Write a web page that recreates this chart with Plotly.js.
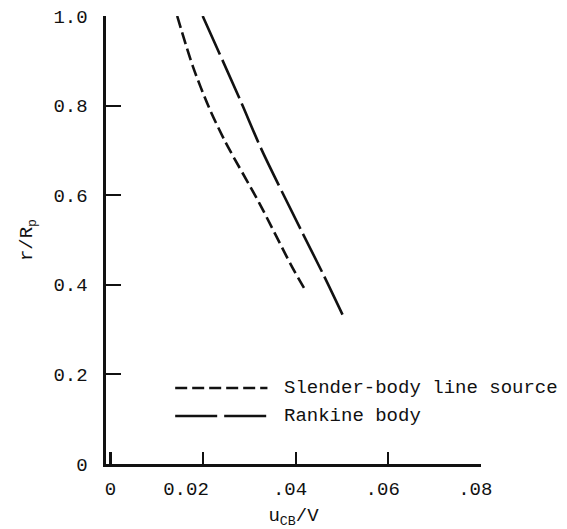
<!DOCTYPE html>
<html>
<head>
<meta charset="utf-8">
<script src="https://cdn.plot.ly/plotly-3.0.1.min.js"></script>
<style>
html,body{margin:0;padding:0;background:#fff;}
#chart{width:567px;height:529px;}
</style>
</head>
<body>
<div id="chart"></div>
<script>
// Slender-body line source (short dashes)
const slenderU = [0.0144, 0.0178, 0.0213, 0.0248, 0.0321, 0.0392, 0.0423];
const slenderR = [1.00, 0.887, 0.795, 0.719, 0.583, 0.440, 0.384];
// Rankine body (long dashes)
const rankineU = [0.0199, 0.0280, 0.0327, 0.0413, 0.0460, 0.0503];
const rankineR = [1.00, 0.8125, 0.700, 0.519, 0.422, 0.329];

const NB = '\u00a0';
const xTickVals = [0, 0.02, 0.04, 0.06, 0.08];
const xTickText = ['0', '0.02' + NB + NB + NB, '.04' + NB, '.06' + NB, '.08' + NB];
const yTickVals = [0, 0.2, 0.4, 0.6, 0.8, 1.0];
const yTickText = ['0', '0.2', '0.4', '0.6', '0.8', '1.0'];

const legendNames = ['Slender-body line source', 'Rankine body'];

const FONT = 'Liberation Mono, Courier New, monospace';
const INK = '#111';
const FS = 19;

const traces = [
  {
    x: slenderU, y: slenderR, type: 'scatter', mode: 'lines',
    name: legendNames[0], cliponaxis: false,
    line: {color: INK, width: 2.6, dash: '12px,5px', shape: 'spline', smoothing: 0.8}
  },
  {
    x: rankineU, y: rankineR, type: 'scatter', mode: 'lines',
    name: legendNames[1], cliponaxis: false,
    line: {color: INK, width: 2.6, dash: '42px,6px', shape: 'spline', smoothing: 0.8}
  }
];

const layout = {
  width: 567, height: 529,
  margin: {l: 106, r: 86, t: 16, b: 65},
  paper_bgcolor: '#fff', plot_bgcolor: '#fff',
  showlegend: false,
  font: {family: FONT, size: FS, color: INK},
  xaxis: {
    range: [-0.00097, 0.08],
    tickvals: xTickVals, ticktext: xTickText,
    ticks: 'inside', ticklen: 12, tickwidth: 2.2, tickcolor: INK,
    showline: true, linewidth: 2.6, linecolor: INK,
    showgrid: false, zeroline: false,
    tickfont: {family: FONT, size: FS, color: INK},
    ticklabelstandoff: 6,
    title: {text: 'u<sub>CB</sub>/V', font: {family: FONT, size: FS, color: INK}, standoff: 10}
  },
  yaxis: {
    range: [0, 1.0],
    tickvals: yTickVals, ticktext: yTickText,
    ticks: 'inside', ticklen: 15, tickwidth: 2.2, tickcolor: INK,
    showline: true, linewidth: 2.6, linecolor: INK,
    showgrid: false, zeroline: false,
    tickfont: {family: FONT, size: FS, color: INK},
    ticklabelstandoff: 12,
    title: {text: 'r/R<sub>p</sub>', font: {family: FONT, size: FS, color: INK}, standoff: 16}
  },
  shapes: [
    {type: 'line', xref: 'paper', yref: 'paper', x0: 0.1845, x1: 0.4305, y0: 0.1696, y1: 0.1696,
     line: {color: INK, width: 2.6, dash: '12px,5px'}},
    {type: 'line', xref: 'paper', yref: 'paper', x0: 0.1845, x1: 0.4305, y0: 0.1071, y1: 0.1071,
     line: {color: INK, width: 2.6, dash: '42px,7px'}}
  ],
  annotations: [
    {xref: 'paper', yref: 'paper', x: 0.4706, y: 0.1696, xanchor: 'left', yanchor: 'middle',
     text: legendNames[0], showarrow: false, font: {family: FONT, size: FS, color: INK}},
    {xref: 'paper', yref: 'paper', x: 0.4706, y: 0.1071, xanchor: 'left', yanchor: 'middle',
     text: legendNames[1], showarrow: false, font: {family: FONT, size: FS, color: INK}}
  ]
};

Plotly.newPlot('chart', traces, layout, {displayModeBar: false, staticPlot: true});
</script>
</body>
</html>
